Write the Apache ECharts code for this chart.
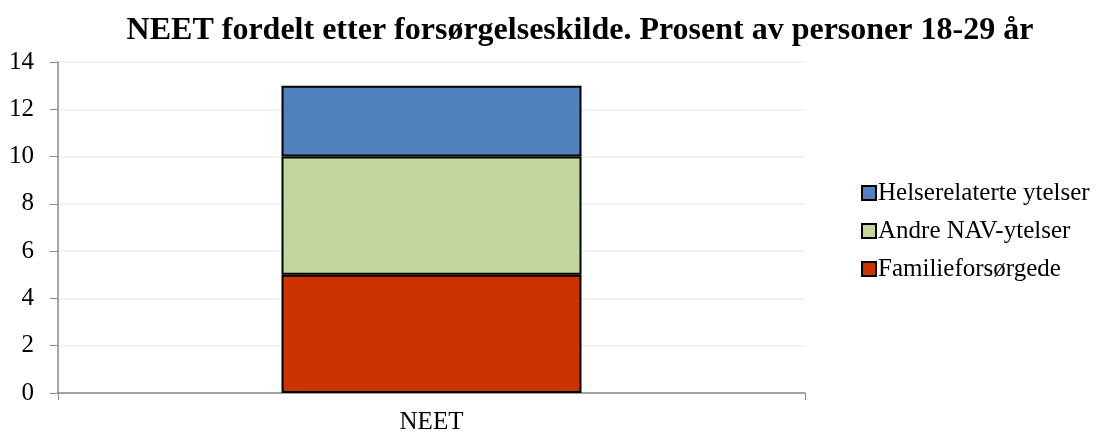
<!DOCTYPE html>
<html><head><meta charset="utf-8">
<script src="https://cdn.jsdelivr.net/npm/echarts@6/dist/echarts.min.js"></script>
<style>html,body{margin:0;padding:0;background:#fff}#c{width:1104px;height:435px}</style>
</head><body><div id="c"></div>
<script>
const categories = ['NEET'];
const familieforsorgede = [5];
const andreNav = [5];
const helserelaterte = [3];
const yTicks = [0, 2, 4, 6, 8, 10, 12, 14];

const font = '"Liberation Serif", "Times New Roman", serif';
const chart = echarts.init(document.getElementById('c'));
chart.setOption({
  animation: false,
  backgroundColor: '#fff',
  title: {
    text: 'NEET fordelt etter forsørgelseskilde. Prosent av personer 18-29 år',
    left: 575, top: 10, textAlign: 'center',
    textStyle: { fontFamily: font, fontWeight: 'bold', fontSize: 32, color: '#000' }
  },
  grid: { left: 58, right: 299, top: 62, bottom: 40 },
  legend: {
    orient: 'vertical', left: 856, top: 175,
    itemWidth: 14, itemHeight: 14, itemGap: 12, icon: 'rect',
    textStyle: { fontFamily: font, fontSize: 25, lineHeight: 26, color: '#000', padding: [0, 0, 0, -3] },
    data: ['Helserelaterte ytelser', 'Andre NAV-ytelser', 'Familieforsørgede']
  },
  xAxis: {
    type: 'category', data: categories,
    axisLine: { lineStyle: { color: '#888', width: 1.5 } },
    axisTick: { show: true, length: 7, lineStyle: { color: '#888' } },
    axisLabel: { fontFamily: font, fontSize: 25, color: '#000', margin: 17 }
  },
  yAxis: {
    type: 'value', min: yTicks[0], max: yTicks[yTicks.length - 1], interval: 2,
    axisLine: { show: true, lineStyle: { color: '#888', width: 1.5 } },
    axisTick: { show: true, length: 8, lineStyle: { color: '#888' } },
    axisLabel: { fontFamily: font, fontSize: 25, color: '#000', margin: 24 },
    splitLine: { lineStyle: { color: '#eeeeee', width: 1.5 } }
  },
  series: [
    { name: 'Familieforsørgede', type: 'bar', stack: 'a', data: familieforsorgede, barWidth: 300,
      itemStyle: { color: '#CC3300', borderColor: '#000', borderWidth: 2 } },
    { name: 'Andre NAV-ytelser', type: 'bar', stack: 'a', data: andreNav, barWidth: 300,
      itemStyle: { color: '#C3D69B', borderColor: '#000', borderWidth: 2 } },
    { name: 'Helserelaterte ytelser', type: 'bar', stack: 'a', data: helserelaterte, barWidth: 300,
      itemStyle: { color: '#4F81BD', borderColor: '#000', borderWidth: 2 } }
  ]
});
</script></body></html>
